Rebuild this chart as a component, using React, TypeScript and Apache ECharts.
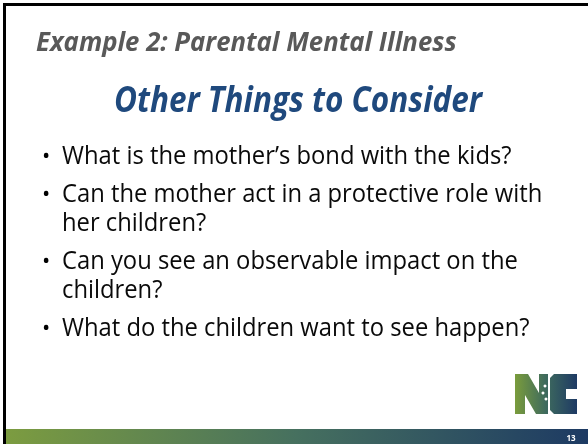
import React, { useEffect, useRef } from "react";
import * as echarts from "echarts";

const kicker = "Example 2: Parental Mental Illness";
const heading = "Other Things to Consider";
const bullets: string[][] = [
  ["What is the mother\u2019s bond with the kids?"],
  ["Can the mother act in a protective role with", "her children?"],
  ["Can you see an observable impact on the", "children?"],
  ["What do the children want to see happen?"],
];
const pageNumber = "13";

const FONT = '"Open Sans", "Noto Sans", sans-serif';

export default function App() {
  const ref = useRef<HTMLDivElement>(null);
  useEffect(() => {
    document.body.style.margin = "0";
    const chart = echarts.init(ref.current!, null, { renderer: "svg" });
    const els: any[] = [];
    els.push({ type: "rect", shape: { x: 0, y: 0, width: 588, height: 444 }, style: { fill: "#ffffff" } });
    // frame
    els.push({ type: "rect", shape: { x: 3, y: 3, width: 585, height: 3 }, style: { fill: "#000" } });
    els.push({ type: "rect", shape: { x: 3, y: 3, width: 3, height: 441 }, style: { fill: "#000" } });
    // bottom bar
    els.push({
      type: "rect",
      shape: { x: 6, y: 429, width: 582, height: 15 },
      style: {
        fill: new echarts.graphic.LinearGradient(0, 0, 1, 0, [
          { offset: 0, color: "#7c9c40" },
          { offset: 0.5, color: "#46705f" },
          { offset: 1, color: "#1d3a63" },
        ]),
      },
    });
    els.push({
      type: "text",
      x: 571, y: 437,
      style: { text: pageNumber, fill: "#fff", fontSize: 8, fontWeight: "bold", fontFamily: FONT, textAlign: "center", textVerticalAlign: "middle" },
    });
    // kicker
    els.push({
      type: "text", x: 36, y: 41, scaleX: 0.99,
      style: { text: kicker, fill: "#595959", fontSize: 26, fontWeight: "bold", fontStyle: "italic", fontFamily: FONT, textVerticalAlign: "middle" },
    });
    // heading
    els.push({
      type: "text", x: 298, y: 98, scaleX: 0.9,
      style: { text: heading, fill: "#1f497d", fontSize: 35, fontWeight: "bold", fontStyle: "italic", fontFamily: FONT, textAlign: "center", textVerticalAlign: "middle" },
    });
    // bullets
    let y = 154;
    bullets.forEach((lines, bi) => {
      if (bi > 0) y += 38;
      lines.forEach((ln, li) => {
        if (li > 0) y += 29;
        if (li === 0) {
          els.push({ type: "text", x: 42, y, style: { text: "\u2022", fill: "#000", fontSize: 22, fontFamily: FONT, textVerticalAlign: "middle" } });
        }
        els.push({
          type: "text", x: 62, y, scaleX: 0.915,
          style: { text: ln, fill: "#0a0a0a", fontSize: 26, fontFamily: FONT, textVerticalAlign: "middle" },
        });
      });
    });
    // logo
    const grad = new echarts.graphic.LinearGradient(515, 0, 577, 0, [
      { offset: 0, color: "#7a9c3c" },
      { offset: 0.5, color: "#3e6a5e" },
      { offset: 1, color: "#1e3a64" },
    ], true);
    els.push({
      type: "polygon",
      shape: { points: [[515, 374], [528, 374], [539, 393], [539, 374], [548, 374], [548, 414], [536, 414], [525, 395], [525, 414], [515, 414]] },
      style: { fill: grad },
    });
    els.push({
      type: "polygon",
      shape: { points: [[554, 374], [577, 374], [577, 389], [566, 389], [566, 399], [577, 399], [577, 414], [554, 414], [550, 410], [550, 378]] },
      style: { fill: grad },
    });
    els.push({ type: "circle", shape: { cx: 545, cy: 386, r: 1.5 }, style: { fill: "#fff" } });
    els.push({ type: "circle", shape: { cx: 543, cy: 393, r: 1.5 }, style: { fill: "#fff" } });
    els.push({ type: "circle", shape: { cx: 546, cy: 399, r: 1.5 }, style: { fill: "#fff" } });
    chart.setOption({ animation: false, graphic: { elements: els } });
    return () => chart.dispose();
  }, []);
  return <div ref={ref} style={{ width: 588, height: 444, position: "fixed", left: 0, top: 0 }} />;
}
